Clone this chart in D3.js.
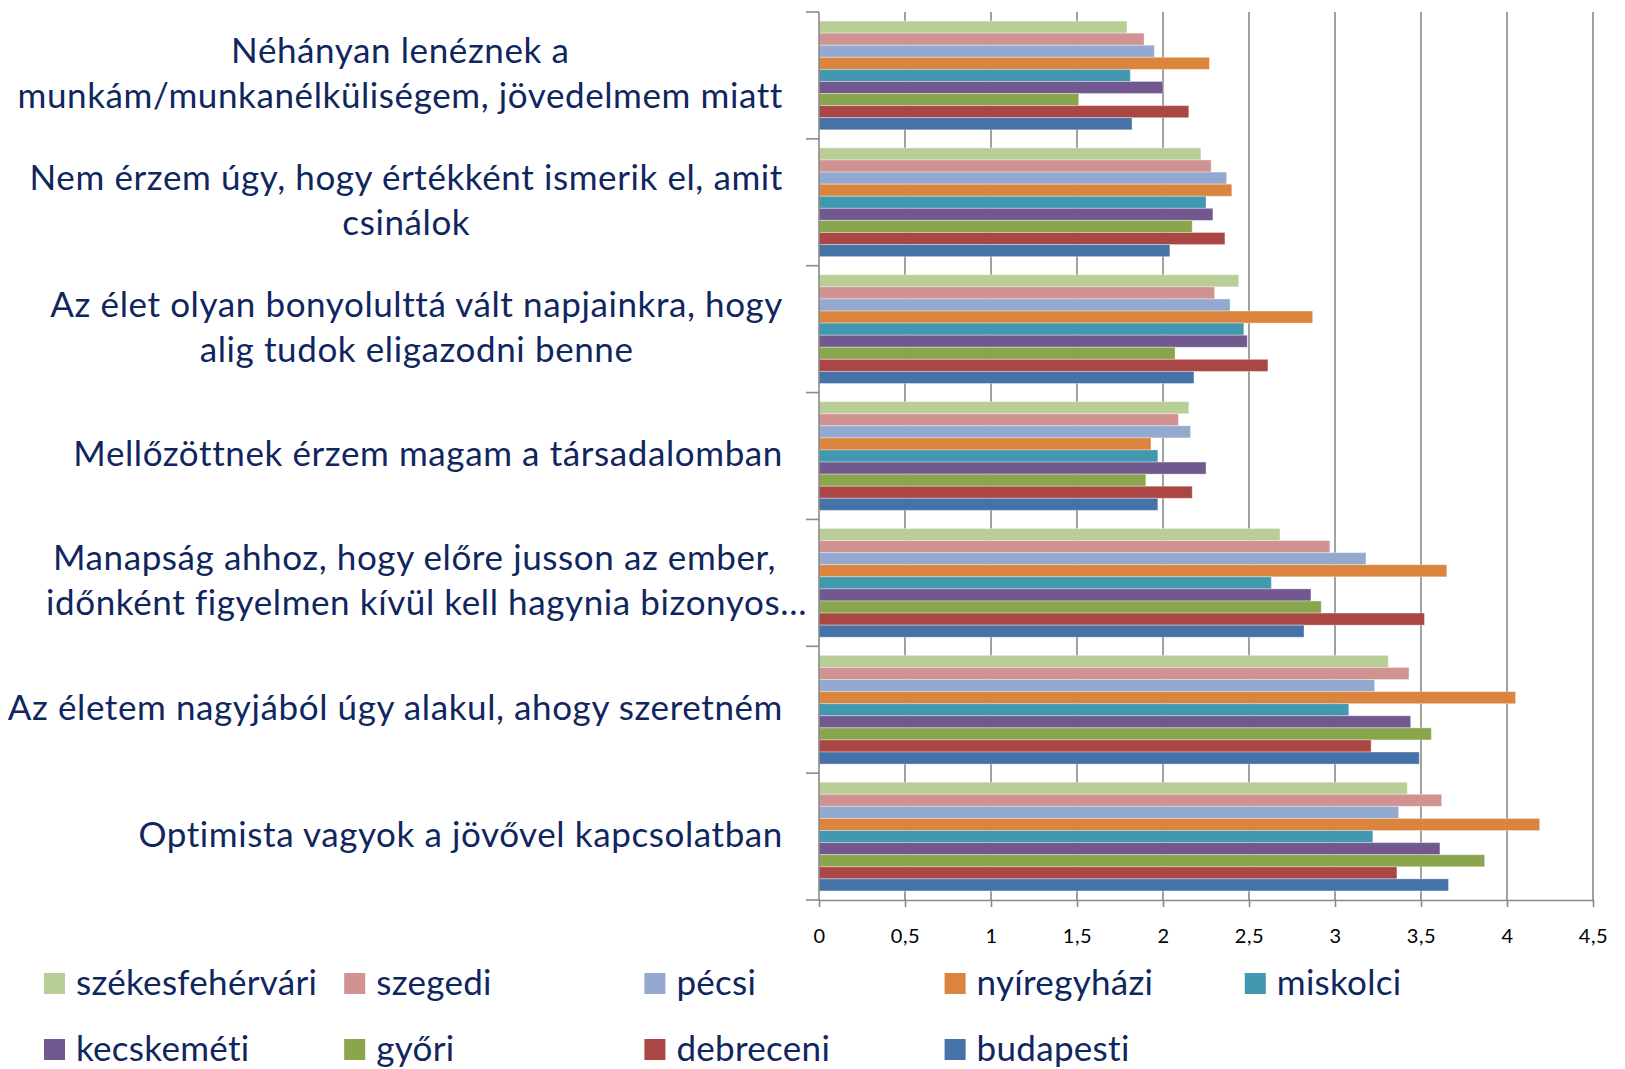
<!DOCTYPE html>
<html>
<head>
<meta charset="utf-8">
<script src="https://cdnjs.cloudflare.com/ajax/libs/d3/7.8.5/d3.min.js"></script>
<style>
  body { margin: 0; background: #fff; }
  svg text { font-family: Lato, "Open Sans", sans-serif; }
</style>
</head>
<body>
<svg id="chart" width="1625" height="1069"></svg>
<script>
// categories, top to bottom
var categories = [
  ["Néhányan lenéznek a", "munkám/munkanélküliségem, jövedelmem miatt"],
  ["Nem érzem úgy, hogy értékként ismerik el, amit", "csinálok"],
  ["Az élet olyan bonyolulttá vált napjainkra, hogy", "alig tudok eligazodni benne"],
  ["Mellőzöttnek érzem magam a társadalomban"],
  ["Manapság ahhoz, hogy előre jusson az ember,", "időnként figyelmen kívül kell hagynia bizonyos…"],
  ["Az életem nagyjából úgy alakul, ahogy szeretném"],
  ["Optimista vagyok a jövővel kapcsolatban"]
];

// series values, same order as categories
var szekesfehervari = [1.79, 2.22, 2.44, 2.15, 2.68, 3.31, 3.42];
var szegedi         = [1.89, 2.28, 2.30, 2.09, 2.97, 3.43, 3.62];
var pecsi           = [1.95, 2.37, 2.39, 2.16, 3.18, 3.23, 3.37];
var nyiregyhazi     = [2.27, 2.40, 2.87, 1.93, 3.65, 4.05, 4.19];
var miskolci        = [1.81, 2.25, 2.47, 1.97, 2.63, 3.08, 3.22];
var kecskemeti      = [2.00, 2.29, 2.49, 2.25, 2.86, 3.44, 3.61];
var gyori           = [1.51, 2.17, 2.07, 1.90, 2.92, 3.56, 3.87];
var debreceni       = [2.15, 2.36, 2.61, 2.17, 3.52, 3.21, 3.36];
var budapesti       = [1.82, 2.04, 2.18, 1.97, 2.82, 3.49, 3.66];

var seriesNames  = ["székesfehérvári", "szegedi", "pécsi", "nyíregyházi", "miskolci",
                    "kecskeméti", "győri", "debreceni", "budapesti"];
var seriesValues = [szekesfehervari, szegedi, pecsi, nyiregyhazi, miskolci,
                    kecskemeti, gyori, debreceni, budapesti];
var seriesColors = ["#B9CD96", "#D19392", "#93A9CF", "#DB843D", "#4198AF",
                    "#71588F", "#89A54E", "#AA4643", "#4572A7"];
var xTicks = [0, 0.5, 1, 1.5, 2, 2.5, 3, 3.5, 4, 4.5];

var svg = d3.select("#chart");
var plot = {l: 819, r: 1593, t: 12, b: 900};
var textColor = "#10265E", gridColor = "#8a8a8a";

var x = d3.scaleLinear().domain([0, 4.5]).range([plot.l, plot.r]);
var catKeys = categories.map(function(d, i){ return i; });
var y0 = d3.scaleBand().domain(catKeys).range([plot.t, plot.b]);
var y1 = d3.scaleBand().domain(seriesNames).range([0, y0.bandwidth()]).paddingOuter(0.75);

var huLocale = d3.formatLocale({decimal: ",", thousands: " ", grouping: [3], currency: ["", " Ft"]});
var fmt = huLocale.format("~g");

// vertical gridlines
svg.append("g").selectAll("line")
  .data(xTicks.slice(1))
  .enter().append("line")
  .attr("x1", function(d){ return x(d); })
  .attr("x2", function(d){ return x(d); })
  .attr("y1", plot.t).attr("y2", plot.b)
  .attr("stroke", gridColor).attr("stroke-width", 1.6);

// bars
var groups = svg.append("g").selectAll("g")
  .data(catKeys)
  .enter().append("g")
  .attr("transform", function(c){ return "translate(0," + y0(c) + ")"; });

groups.selectAll("rect")
  .data(function(c){
    return seriesNames.map(function(name, s){
      return {name: name, value: seriesValues[s][c], color: seriesColors[s]};
    });
  })
  .enter().append("rect")
  .attr("x", x(0))
  .attr("y", function(d){ return y1(d.name); })
  .attr("width", function(d){ return x(d.value) - x(0); })
  .attr("height", y1.bandwidth())
  .attr("fill", function(d){ return d.color; })
  .attr("stroke", "rgba(255,255,255,0.35)")
  .attr("stroke-width", 1);

// x axis
var xAxis = svg.append("g")
  .attr("transform", "translate(0," + plot.b + ")")
  .call(d3.axisBottom(x).tickValues(xTicks).tickFormat(fmt).tickSize(7).tickPadding(22).tickSizeOuter(0));
xAxis.select(".domain").attr("stroke", gridColor).attr("stroke-width", 1.6);
xAxis.selectAll(".tick line").attr("stroke", gridColor).attr("stroke-width", 1.6);
xAxis.selectAll(".tick text")
  .attr("font-size", 20).attr("fill", "#000")
  .attr("letter-spacing", 0.6)
  .style("font-family", "Lato, sans-serif");

// y axis line with ticks between categories
var yAxis = svg.append("g");
yAxis.append("line")
  .attr("x1", plot.l).attr("x2", plot.l)
  .attr("y1", plot.t).attr("y2", plot.b)
  .attr("stroke", gridColor).attr("stroke-width", 1.6);
yAxis.selectAll(".ytick")
  .data(catKeys.concat([categories.length]))
  .enter().append("line")
  .attr("class", "ytick")
  .attr("x1", plot.l - 13).attr("x2", plot.l)
  .attr("y1", function(c){ return c < categories.length ? y0(c) : plot.b; })
  .attr("y2", function(c){ return c < categories.length ? y0(c) : plot.b; })
  .attr("stroke", gridColor).attr("stroke-width", 1.6);

// category labels: lines centred on each other, block right aligned
var labelRight = 783, lineH = 45, labelSize = 35;
var labels = svg.append("g").selectAll("g")
  .data(catKeys)
  .enter().append("g");

labels.each(function(c){
  var g = d3.select(this);
  var lines = categories[c];
  var texts = g.selectAll("text").data(lines).enter().append("text")
    .attr("font-size", labelSize)
    .attr("letter-spacing", 0.6)
    .attr("fill", textColor)
    .attr("text-anchor", "middle")
    .text(function(d){ return d; });
  var maxW = 0;
  texts.each(function(d){
    var w = this.getComputedTextLength();
    // a trailing ellipsis hangs past the right edge
    if (/…$/.test(d)) w -= 24;
    maxW = Math.max(maxW, w);
  });
  var cy = y0(c) + y0.bandwidth() / 2;
  texts
    .attr("x", labelRight - maxW / 2)
    .attr("y", function(d, i){ return cy + (i - (lines.length - 1) / 2) * lineH + 10; })
    .attr("dx", function(d){ return /…$/.test(d) ? 12 : 0; });
});

// legend
var legend = svg.append("g").selectAll("g")
  .data(seriesNames)
  .enter().append("g")
  .attr("transform", function(d, i){
    return "translate(" + (44 + (i % 5) * 300.2) + "," + (973 + Math.floor(i / 5) * 66) + ")";
  });
legend.append("rect")
  .attr("width", 21).attr("height", 21)
  .attr("fill", function(d, i){ return seriesColors[i]; });
legend.append("text")
  .attr("x", 32).attr("y", 22)
  .attr("font-size", labelSize)
  .attr("letter-spacing", 0.3)
  .attr("fill", textColor)
  .text(function(d){ return d; });
</script>
</body>
</html>
